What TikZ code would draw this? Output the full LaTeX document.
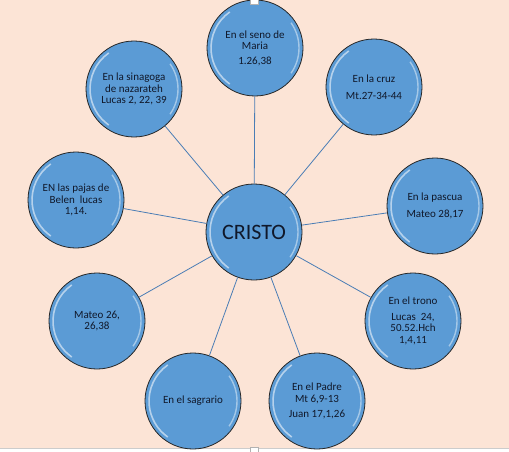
\documentclass[tikz,border=0pt]{standalone}
\usepackage{fontspec}
\setmainfont{Carlito}
\definecolor{peach}{HTML}{FCE4D6}
\definecolor{ballblue}{HTML}{5B9BD5}
\definecolor{linkblue}{HTML}{4A7DB5}
\definecolor{inktext}{HTML}{10182A}
\tikzset{
 ballnode/.style={circle, draw=black!85, line width=0.8pt, fill=ballblue, minimum size=96pt,
   inner sep=0pt, align=center, font=\fontsize{11}{11.5}\selectfont, text=inktext,
   path picture={
     \draw[white,opacity=0.55,line width=1.6pt] ([shift={(125:44pt)}]path picture bounding box.center) arc[start angle=125,end angle=235,radius=44pt];
     \draw[white,opacity=0.45,line width=1.4pt] ([shift={(-35:44pt)}]path picture bounding box.center) arc[start angle=-35,end angle=35,radius=44pt];
   }},
 centernode/.style={ballnode, font=\fontsize{22}{24}\selectfont},
 linkline/.style={draw=linkblue, line width=0.8pt}
}
\begin{document}
\begin{tikzpicture}[x=1pt,y=1pt]
\useasboundingbox (0,0) rectangle (509,451);
\fill[peach] (0,0) rectangle (509,451);
\fill[white] (0,0) rectangle (509,2.5);
\draw[gray!40,line width=0.4pt] (0,2.5) -- (509,2.5);

\node[centernode] (c) at (254,219) {CRISTO};
\node[ballnode] (seno) at (255,403) {En el seno de\\Maria\\[3pt]1.26,38};
\node[ballnode] (sina) at (134,362) {En la sinagoga\\de nazarateh\\Lucas 2, 22, 39};
\node[ballnode] (belen) at (76,251) {EN las pajas de\\Belen\ \ lucas\\1,14.};
\node[ballnode] (mateo) at (97,130) {Mateo 26,\\26,38};
\node[ballnode] (sagr) at (193,50) {En el sagrario};
\node[ballnode] (padre) at (317,50) {En el Padre\\Mt 6,9-13\\[4pt]Juan 17,1,26};
\node[ballnode] (trono) at (413,130) {En el trono\\[4pt]Lucas\ \ 24,\\50.52.Hch\\1,4,11};
\node[ballnode] (pascua) at (435,245) {En la pascua\\[5pt]Mateo 28,17};
\node[ballnode] (cruz) at (374,364) {En la cruz\\[5pt]Mt.27-34-44};

\foreach \n in {seno,sina,belen,mateo,sagr,padre,trono,pascua,cruz}
  \draw[linkline] (c) -- (\n);

\draw[gray!60,fill=white,line width=0.4pt] (250,447) rectangle (258,452);
\draw[gray!60,fill=white,line width=0.4pt] (250,-1) rectangle (258,4);
\end{tikzpicture}
\end{document}
